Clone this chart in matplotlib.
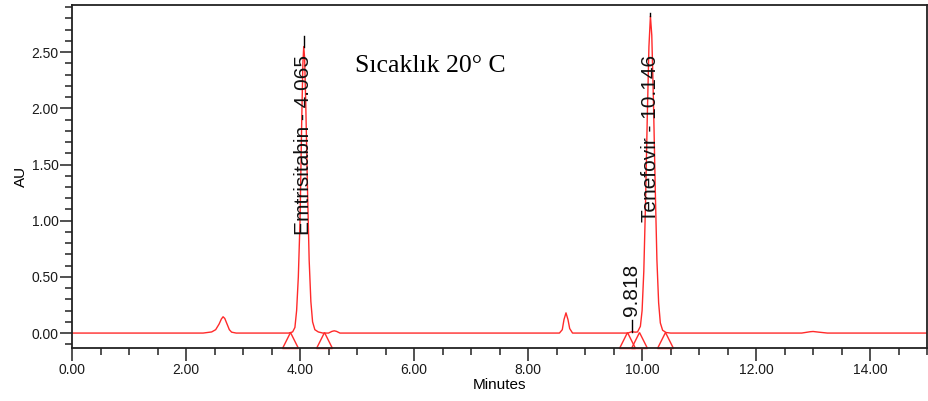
import numpy as np
import matplotlib.pyplot as plt
from matplotlib.ticker import MultipleLocator, FormatStrFormatter

# chromatogram trace (minutes, AU)
time = [0.00, 2.30, 2.45, 2.52, 2.58, 2.62, 2.65, 2.68, 2.72, 2.76, 2.80, 2.88,
        3.80, 3.87, 3.91, 3.94, 3.97, 4.00, 4.03, 4.05, 4.065, 4.08, 4.10, 4.13,
        4.16, 4.19, 4.22, 4.26, 4.32, 4.40,
        4.50, 4.56, 4.60, 4.64, 4.70,
        8.55, 8.60, 8.63, 8.665, 8.70, 8.73, 8.78,
        9.75, 9.82, 9.88,
        9.92, 9.97, 10.00, 10.03, 10.06, 10.09, 10.12, 10.146, 10.17, 10.20,
        10.23, 10.26, 10.29, 10.32, 10.36, 10.42, 10.50,
        12.80, 12.95, 13.00, 13.10, 13.25, 15.00]
au = [0.0, 0.0, 0.01, 0.03, 0.08, 0.125, 0.145, 0.13, 0.08, 0.03, 0.008, 0.0,
      0.0, 0.01, 0.05, 0.2, 0.5, 1.0, 1.9, 2.4, 2.55, 2.45, 2.05, 1.3,
      0.65, 0.28, 0.1, 0.03, 0.01, 0.0,
      0.0, 0.015, 0.02, 0.015, 0.0,
      0.0, 0.03, 0.12, 0.18, 0.12, 0.04, 0.0,
      0.0, 0.012, 0.008,
      0.01, 0.06, 0.2, 0.55, 1.15, 1.9, 2.55, 2.82, 2.65, 2.05,
      1.3, 0.65, 0.27, 0.09, 0.025, 0.005, 0.0,
      0.0, 0.012, 0.014, 0.008, 0.0, 0.0]

# labelled peaks
peak_names = ['Emtrisitabin - 4.065', '9.818', 'Tenefovir - 10.146']
peak_times = [4.065, 9.818, 10.146]
peak_tops = [2.55, 0.012, 2.82]
line_tops = [2.64, 0.12, 2.85]
label_bottoms = [0.87, 0.15, 0.99]

# integration start/end markers
marker_times = [3.82, 4.42, 9.73, 9.95, 10.40]

fig = plt.figure(figsize=(9.29, 4.01), dpi=100)
ax = fig.add_axes([0.0775, 0.133, 0.9205, 0.8545])

red = '#ff2a2a'

ax.plot(time, au, color=red, lw=1.0)
ax.plot(marker_times, [-0.065] * len(marker_times), linestyle='none', marker='^',
        markersize=11, markerfacecolor='none', markeredgecolor=red, markeredgewidth=1.0,
        clip_on=False)

for name, t, top, ltop, lb in zip(peak_names, peak_times, peak_tops, line_tops, label_bottoms):
    ax.plot([t, t], [top, ltop], color='black', lw=1.0)
    ax.text(t, lb, name, rotation=90, ha='center', va='bottom', fontsize=15,
            family='Liberation Sans', color='#111111')

ax.text(4.96, 2.32, 'Sıcaklık 20° C', family='Liberation Serif', fontsize=18.5,
        ha='left', va='baseline')

ax.set_xlim(0, 15)
ax.set_ylim(-0.13, 2.92)
ax.xaxis.set_major_locator(MultipleLocator(2))
ax.xaxis.set_minor_locator(MultipleLocator(0.5))
ax.yaxis.set_major_locator(MultipleLocator(0.5))
ax.yaxis.set_minor_locator(MultipleLocator(0.1))
ax.xaxis.set_major_formatter(FormatStrFormatter('%.2f'))
ax.yaxis.set_major_formatter(FormatStrFormatter('%.2f'))
ax.tick_params(which='major', length=9, width=1.2, color='#333333')
ax.tick_params(which='minor', length=5, width=1.2, color='#333333')
ax.tick_params(axis='x', which='major', pad=2)
ax.tick_params(axis='y', which='major', pad=0.5)
for lab in ax.get_xticklabels() + ax.get_yticklabels():
    lab.set_family('Liberation Sans')
    lab.set_fontsize(10)
    lab.set_color('#1a1a1a')

for sp in ax.spines.values():
    sp.set_linewidth(1.3)
    sp.set_color('#222222')

ax.set_xlabel('Minutes', family='Liberation Sans', fontsize=11)
ax.set_ylabel('AU', family='Liberation Sans', fontsize=11)
ax.xaxis.set_label_coords(0.5, -0.088)
ax.yaxis.set_label_coords(-0.052, 0.5)

fig.savefig('out.png', dpi=100)
